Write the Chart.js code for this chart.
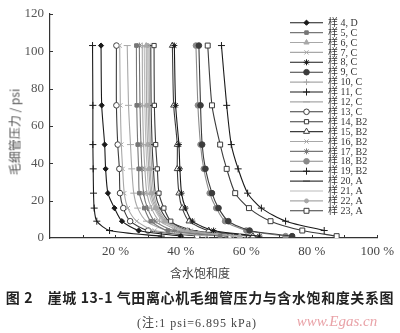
<!DOCTYPE html>
<html>
<head>
<meta charset="utf-8">
<script src="https://cdn.jsdelivr.net/npm/chart.js@4/dist/chart.umd.min.js"></script>
<style>
html, body { margin: 0; padding: 0; background: #fff; }
#wrap { position: relative; width: 400px; height: 333px; overflow: hidden; }
canvas { position: absolute; left: 0; top: 0; }
.txt { position: absolute; white-space: nowrap; color: #333; }
#ytitle { left: 14px; top: 132px; transform: translate(-50%, -50%) rotate(-90deg);
  font: 12px "Noto Sans CJK SC", "Liberation Serif", serif; color: #555; }
#xtitle { left: 200px; top: 272px; transform: translate(-50%, -50%);
  font: 12px "Noto Sans CJK SC", sans-serif; color: #444; }
#caption { left: 200px; top: 297px; transform: translate(-50%, -50%);
  font: bold 14px "Noto Sans CJK SC", sans-serif; color: #222; letter-spacing: 0.6px; }
#note { left: 197px; top: 322px; transform: translate(-50%, -50%);
  font: 12px "Liberation Serif", "Noto Sans CJK SC", serif; color: #444; letter-spacing: 1px; }
#mark { left: 337px; top: 321px; transform: translate(-50%, -50%);
  font: italic 15px "Liberation Serif", serif; color: #e9a3a8; }
</style>
</head>
<body>
<div id="wrap">
  <canvas id="capChart" width="400" height="333"></canvas>
  <div id="ytitle" class="txt">毛细管压力 / psi</div>
  <div id="xtitle" class="txt">含水饱和度</div>
  <div id="caption" class="txt">图 2　崖城 13-1 气田离心机毛细管压力与含水饱和度关系图</div>
  <div id="note" class="txt">(注:1 psi=6.895 kPa)</div>
  <div id="mark" class="txt">www.Egas.cn</div>
</div>
<script>
// --- Data: centrifuge pressure steps (psi) and water saturation (%) per sample ---
const pressure = [103, 71, 50, 37, 24, 16, 9, 4, 1];

const s4  = [15.6, 15.8, 16.7, 17.0, 17.7, 19.7, 22.0, 27.1, 40];
const s5  = [26.4, 26.5, 26.8, 27.1, 27.3, 28.8, 30.8, 36, 52];
const s6  = [29.4, 29.5, 29.8, 30.2, 30.8, 32.2, 35, 42, 58];
const s7  = [21.3, 21.5, 21.8, 22.2, 22.7, 23.8, 26.5, 32, 48];
const s8  = [38, 38.4, 39.4, 39.7, 40.2, 41.4, 43.5, 50, 64];
const s9  = [45.5, 46, 46.5, 47.5, 49.5, 51.5, 54.5, 61, 74];
const s10 = [28.2, 28.3, 28.6, 29, 29.6, 31, 33.5, 40, 56];
const s11 = [13.0, 13.1, 13.1, 13.2, 13.3, 13.5, 14.3, 18.2, 34];
const s12 = [23.6, 24.0, 24.6, 25.0, 25.6, 26.8, 29.5, 36, 52];
const s13 = [20.3, 20.3, 20.7, 21.2, 21.4, 22.4, 24.5, 30, 45];
const s14 = [31.8, 31.9, 32.3, 32.8, 33.3, 34.8, 36.9, 42, 55];
const s15 = [37.4, 37.8, 38.9, 38.9, 39.4, 40.4, 42.5, 48.5, 62];
const s16 = [30.3, 30.4, 30.7, 31.1, 31.7, 33, 35.8, 43, 60];
const s17 = [27.3, 27.5, 27.8, 28.1, 28.6, 29.8, 32, 38, 54];
const s18 = [44.6, 45.2, 46, 47, 48.8, 50.8, 53.5, 60, 72];
const s19 = [52.4, 54.0, 55.4, 57.5, 60.4, 64.6, 72, 83.8];
const s20 = [30.8, 30.9, 31.2, 31.6, 32.2, 33.6, 36.4, 44, 62];
const s21 = [28.8, 29, 29.3, 29.7, 30.3, 31.8, 34.5, 41, 57];
const s22 = [29.9, 30, 30.3, 30.6, 31.2, 32.6, 35.3, 41.5, 58];
const s23 = [48.2, 49.5, 52.0, 54.0, 56.6, 60.8, 67.4, 77.1, 87.6];

const xTicks = [20, 40, 60, 80, 100];
const yTicks = [0, 20, 40, 60, 80, 100, 120];

// --- Helpers ---
function pts(sat) {
    return sat.map((s, i) => ({ x: s, y: pressure[i] }));
}

function series(label, sat, color, style, radius, fill) {
    return {
        label: label,
        data: pts(sat),
        borderColor: color,
        borderWidth: 1.1,
        showLine: true,
        tension: 0.25,
        pointStyle: style,
        pointRadius: radius,
        pointBorderWidth: 1,
        pointBorderColor: color,
        pointBackgroundColor: fill || color
    };
}

const BLACK = '#1a1a1a', DARK = '#3c3c3c', MID = '#777777', LIGHT = '#a8a8a8';

const datasets = [
    series('样 4, D',   s4,  BLACK, 'rectRot', 2.6),
    series('样 5, C',   s5,  MID,   'rect', 2.5),
    series('样 6, C',   s6,  LIGHT, 'triangle', 3),
    series('样 7, C',   s7,  LIGHT, 'crossRot', 3),
    series('样 8, C',   s8,  BLACK, 'star', 3),
    series('样 9, C',   s9,  DARK,  'circle', 2.8),
    series('样 10, C',  s10, LIGHT, 'cross', 3),
    series('样 11, C',  s11, BLACK, 'cross', 3.5),
    series('样 12, C',  s12, LIGHT, 'line', 3.5),
    series('样 13, C',  s13, DARK,  'circle', 2.8, '#fff'),
    series('样 14, B2', s14, DARK,  'rect', 3, '#fff'),
    series('样 15, B2', s15, DARK,  'triangle', 3.5, '#fff'),
    series('样 16, B2', s16, LIGHT, 'crossRot', 3),
    series('样 17, B2', s17, MID,   'star', 3),
    series('样 18, B2', s18, '#8a8a8a', 'circle', 2.8),
    series('样 19, B2', s19, BLACK, 'cross', 3.5),
    series('样 20, A',  s20, DARK,  'line', 3.5),
    series('样 21, A',  s21, '#bbbbbb', 'circle', 0),
    series('样 22, A',  s22, LIGHT, 'circle', 2),
    series('样 23, A',  s23, DARK,  'rect', 3.5, '#fff')
];

// --- Plugins ---
// small tick marks pointing into the plot area
const innerTicks = {
    id: 'innerTicks',
    afterDraw(chart) {
        const ctx = chart.ctx, xs = chart.scales.x, ys = chart.scales.y;
        ctx.save();
        ctx.strokeStyle = '#333';
        ctx.lineWidth = 1;
        ctx.beginPath();
        for (let v = 10; v <= 100; v += 10) {
            const px = Math.round(xs.getPixelForValue(v)) + 0.5;
            ctx.moveTo(px, ys.bottom);
            ctx.lineTo(px, ys.bottom - 3);
        }
        for (let v = 20; v <= 120; v += 20) {
            const py = Math.round(ys.getPixelForValue(v)) + 0.5;
            ctx.moveTo(xs.left, py);
            ctx.lineTo(xs.left + 3, py);
        }
        ctx.stroke();
        ctx.restore();
    }
};

// legend column drawn inside the plot, right side
const sampleLegend = {
    id: 'sampleLegend',
    afterDraw(chart) {
        const ctx = chart.ctx;
        chart.data.datasets.forEach((ds, i) => {
            const y = 22.7 + i * 9.9;
            ctx.save();
            ctx.strokeStyle = ds.borderColor;
            ctx.lineWidth = ds.borderWidth;
            ctx.beginPath();
            ctx.moveTo(290, y);
            ctx.lineTo(323, y);
            ctx.stroke();
            if (ds.pointRadius > 0) {
                ctx.fillStyle = ds.pointBackgroundColor;
                ctx.strokeStyle = ds.pointBorderColor;
                ctx.lineWidth = ds.pointBorderWidth;
                Chart.helpers.drawPoint(ctx, {
                    pointStyle: ds.pointStyle,
                    radius: ds.pointRadius,
                    borderWidth: ds.pointBorderWidth,
                    rotation: 0
                }, 306.5, y);
            }
            ctx.fillStyle = '#333';
            ctx.font = '10px "Liberation Serif", "Noto Sans CJK SC", serif';
            ctx.textBaseline = 'middle';
            ctx.fillText(ds.label, 328, y + 0.5);
            ctx.restore();
        });
    }
};

// --- Chart ---
new Chart(document.getElementById('capChart'), {
    type: 'scatter',
    data: { datasets: datasets },
    plugins: [innerTicks, sampleLegend],
    options: {
        responsive: false,
        animation: false,
        layout: { padding: { left: 0, right: 20, top: 0, bottom: 0 } },
        plugins: { legend: { display: false }, tooltip: { enabled: false } },
        scales: {
            x: {
                type: 'linear', min: 0, max: 100,
                afterBuildTicks: s => { s.ticks = xTicks.map(v => ({ value: v })); },
                afterFit: s => { s.height = 95; },
                ticks: {
                    padding: 6,
                    color: '#444',
                    font: { family: '"Liberation Serif", serif', size: 13 },
                    callback: v => v + ' %'
                },
                grid: { display: true, drawOnChartArea: false, drawTicks: false },
                border: { display: true, color: '#333', width: 1.2 }
            },
            y: {
                type: 'linear', min: 0, max: 120,
                afterBuildTicks: s => { s.ticks = yTicks.map(v => ({ value: v })); },
                afterFit: s => { s.width = 50; },
                ticks: {
                    padding: 6,
                    color: '#555',
                    font: { family: '"Liberation Serif", serif', size: 13 }
                },
                grid: { display: true, drawOnChartArea: false, drawTicks: false },
                border: { display: true, color: '#333', width: 1.2 }
            }
        }
    }
});
</script>
</body>
</html>
